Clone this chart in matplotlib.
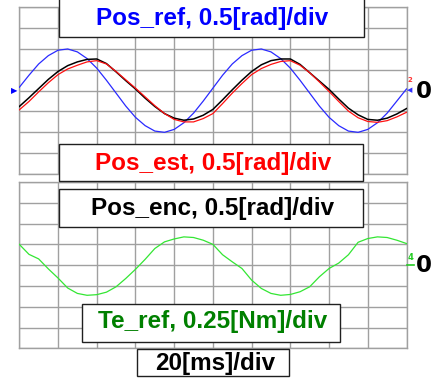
import matplotlib
matplotlib.use("Agg")
import matplotlib.pyplot as plt
from matplotlib.patches import Rectangle

# ---------------- data ----------------
t_ms = list(range(0, 201, 5))  # time [ms], 20 ms/div

pos_ref = [0.08, 0.37, 0.64, 0.84, 0.97, 1.00, 0.93, 0.77, 0.54, 0.25,
           -0.06, -0.37, -0.64, -0.84, -0.97, -1.00, -0.93, -0.77, -0.54, -0.25,
           0.06, 0.37, 0.64, 0.84, 0.97, 1.00, 0.93, 0.77, 0.54, 0.25,
           -0.06, -0.37, -0.64, -0.84, -0.97, -1.00, -0.93, -0.77, -0.54, -0.25,
           0.04]

pos_enc = [-0.38, -0.17, 0.05, 0.27, 0.46, 0.60, 0.69, 0.75, 0.76, 0.65,
           0.45, 0.24, 0.04, -0.18, -0.38, -0.55, -0.66, -0.71, -0.68, -0.59,
           -0.45, -0.22, 0.02, 0.25, 0.46, 0.62, 0.72, 0.76, 0.76, 0.63,
           0.43, 0.23, 0.03, -0.20, -0.42, -0.58, -0.69, -0.71, -0.66, -0.56,
           -0.43]

pos_est = [-0.46, -0.26, -0.03, 0.19, 0.385, 0.52, 0.61, 0.69, 0.72, 0.64,
           0.46, 0.26, 0.06, -0.15, -0.36, -0.55, -0.69, -0.75, -0.75, -0.67,
           -0.55, -0.31, -0.06, 0.17, 0.385, 0.53, 0.63, 0.70, 0.72, 0.61,
           0.43, 0.21, -0.02, -0.26, -0.49, -0.65, -0.74, -0.76, -0.72, -0.63,
           -0.52]

te_ref = [0.25, 0.13, 0.075, -0.045, -0.155, -0.275, -0.34, -0.3625, -0.355, -0.325,
          -0.26, -0.16, -0.05, 0.07, 0.20, 0.28, 0.315, 0.34, 0.3325, 0.30,
          0.25, 0.125, 0.04, -0.04, -0.18, -0.28, -0.34, -0.3625, -0.3525, -0.32,
          -0.26, -0.14, -0.04, 0.025, 0.125, 0.275, 0.32, 0.34, 0.3325, 0.30,
          0.26]

label_ref = "Pos_ref, 0.5[rad]/div"
label_est = "Pos_est, 0.5[rad]/div"
label_enc = "Pos_enc, 0.5[rad]/div"
label_te = "Te_ref, 0.25[Nm]/div"
label_time = "20[ms]/div"

# ---------------- layout ----------------
W, H = 440, 379
fig = plt.figure(figsize=(W / 100, H / 100), dpi=100)
FONT = ['Liberation Sans Narrow', 'Liberation Sans', 'DejaVu Sans']
TXT = 17.5


def fx(x):
    return x / W


def fy(y):
    return 1 - y / H


GRID = '#a0a0a0'


def make_axes(top, bottom, ylim):
    ax = fig.add_axes([fx(19.3), fy(bottom), fx(406.5) - fx(19.3), fy(top) - fy(bottom)])
    ax.set_xlim(0, 200)
    ax.set_ylim(-ylim, ylim)
    ax.set_xticks([i * 20 for i in range(11)])
    ax.set_yticks([ylim * (i - 4) / 4 for i in range(9)])
    ax.grid(True, color=GRID, linewidth=1.0)
    ax.tick_params(length=0, labelbottom=False, labelleft=False)
    for s in ax.spines.values():
        s.set_color(GRID)
        s.set_linewidth(1.0)
    ax.set_axisbelow(True)
    return ax


ax1 = make_axes(7.3, 174.0, 2.0)
ax1.plot(t_ms, pos_ref, color='#2a2aff', lw=0.9, zorder=3)
ax1.plot(t_ms, pos_enc, color='black', lw=1.1, zorder=4)
ax1.plot(t_ms, pos_est, color='#ff1010', lw=0.9, zorder=5)

ax2 = make_axes(182.0, 348.3, 1.0)
ax2.plot(t_ms, te_ref, color='#33e633', lw=0.9, zorder=3)


def box(x0, x1, y0, y1, text, color, xc, ybase, size=TXT):
    fig.patches.append(Rectangle((fx(x0), fy(y1)), fx(x1) - fx(x0), fy(y0) - fy(y1),
                                 transform=fig.transFigure, facecolor='white',
                                 edgecolor='#202020', linewidth=1.0, zorder=10))
    fig.text(fx(xc), fy(ybase), text, color=color, ha='center', va='baseline',
             fontsize=size, fontweight='bold', family=FONT, zorder=11)


box(59, 364, -5, 37, label_ref, '#0000ff', 212.5, 25.0)
box(59.3, 363.3, 144, 181, label_est, '#ff0000', 213, 170.0)
box(59.3, 363.3, 189.3, 226.7, label_enc, 'black', 212.5, 215.0)
box(82.3, 340, 304, 341.7, label_te, '#008000', 212.5, 328.3)
box(137.3, 289.3, 349.3, 376, label_time, 'black', 215.5, 370.0)

# zero labels on the right
for yb in (98.3, 271.7):
    fig.text(fx(423.7), fy(yb), "0", color='black', ha='center', va='baseline',
             fontsize=16.5, fontweight='bold', family=['DejaVu Sans'])

# channel markers
fig.text(fx(14.5), fy(91), "\u25B6", color='#0000ff', ha='center', va='center',
         fontsize=6, family=['DejaVu Sans'])
fig.text(fx(410), fy(80), "2", color='#ff3030', ha='center', va='center',
         fontsize=5, fontweight='bold', family=['DejaVu Sans'])
fig.text(fx(410), fy(90), "\u25C0", color='#3030ff', ha='center', va='center',
         fontsize=5, family=['DejaVu Sans'])
fig.text(fx(410.5), fy(257), "4", color='#22cc22', ha='center', va='center',
         fontsize=6, fontweight='bold', family=['DejaVu Sans'])
fig.add_artist(plt.Line2D([fx(407), fx(414)], [fy(265), fy(265)],
                          transform=fig.transFigure, color='#22cc22', lw=1.2))

fig.savefig("out.png", dpi=100)
